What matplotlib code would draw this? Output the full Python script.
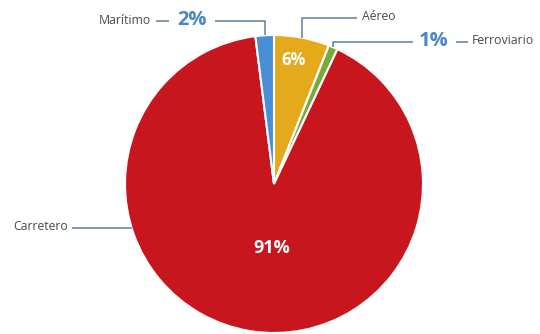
import numpy as np
import matplotlib.pyplot as plt

labels = ["Aéreo", "Ferroviario", "Carretero", "Marítimo"]
values = [6, 1, 91, 2]
colors = ["#e5a91c", "#79a93b", "#c8161f", "#4a8fd3"]

line_col = "#5b7fa3"
pct_col = "#4a87c9"
txt_col = "#4a4a4a"
font = "Open Sans"

W, H = 540, 334
cx, cy, R = 274, 184, 149


def px(x, y):
    # pixel position -> data units (pie radius = 1)
    return (x - cx) / R, (cy - y) / R


fig = plt.figure(figsize=(W / 100, H / 100), dpi=100)
ax = fig.add_axes([0, 0, 1, 1])

wedges, _ = ax.pie(values, colors=colors, startangle=90, counterclock=False,
                   radius=1, center=(0, 0), frame=True,
                   wedgeprops=dict(edgecolor="white", linewidth=1.5))
ax.axis("off")
ax.set_aspect("equal")
ax.set_xlim(-cx / R, (W - cx) / R)
ax.set_ylim((cy - H) / R, cy / R)


def mid(w):
    a = np.deg2rad((w.theta1 + w.theta2) / 2)
    return np.cos(a), np.sin(a)


lk = dict(color=line_col, lw=1.1, solid_capstyle="butt")
small = 8.8
big = 14.5

# Marítimo
mx, my = mid(wedges[3])
y0 = px(0, 21)[1]
ax.plot([mx, mx, px(215, 0)[0]], [my, y0, y0], **lk)
ax.text(*px(207, 20), "2%", color=pct_col, fontsize=big, fontweight="bold",
        ha="right", va="center", family=font)
ax.plot([px(156, 0)[0], px(169, 0)[0]], [y0, y0], **lk)
ax.text(*px(151, 20), "Marítimo", color=txt_col, fontsize=small,
        ha="right", va="center", family=font)

# Aéreo
ax_, ay = mid(wedges[0])
y1 = px(0, 18)[1]
ax.plot([ax_, ax_, px(357, 0)[0]], [ay, y1, y1], **lk)
ax.text(*px(362, 16), "Aéreo", color=txt_col, fontsize=small,
        ha="left", va="center", family=font)

# Ferroviario
fx, fy = mid(wedges[1])
y2 = px(0, 42)[1]
ax.plot([fx, fx, px(413, 0)[0]], [fy, y2, y2], **lk)
ax.text(*px(419, 41), "1%", color=pct_col, fontsize=big, fontweight="bold",
        ha="left", va="center", family=font)
ax.plot([px(456, 0)[0], px(468, 0)[0]], [y2, y2], **lk)
ax.text(*px(472, 41), "Ferroviario", color=txt_col, fontsize=small,
        ha="left", va="center", family=font)

# Carretero
y3 = px(0, 228)[1]
ex = -np.sqrt(1 - y3 ** 2)
ax.plot([px(72, 0)[0], ex], [y3, y3], **lk)
ax.text(*px(68, 227), "Carretero", color=txt_col, fontsize=small,
        ha="right", va="center", family=font)

# values inside
ax.text(*px(294, 60), "6%", color="white", fontsize=12, fontweight="bold",
        ha="center", va="center", family=font)
ax.text(*px(272, 248), "91%", color="white", fontsize=13, fontweight="bold",
        ha="center", va="center", family=font)

fig.savefig("out.png", dpi=100)
